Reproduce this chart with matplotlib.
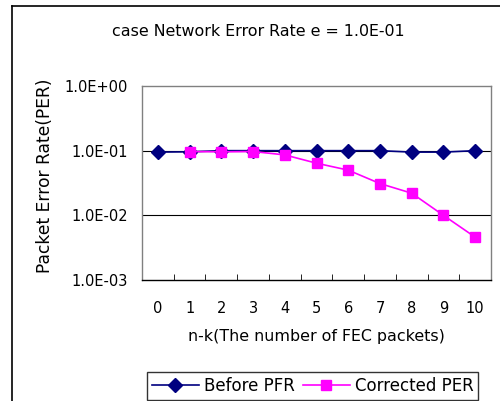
import numpy as np
import matplotlib
matplotlib.use("Agg")
import matplotlib.pyplot as plt
import matplotlib.ticker as ticker
from matplotlib.lines import Line2D

plt.rcParams['font.family'] = ['DejaVu Sans']

# data
fec = [0, 1, 2, 3, 4, 5, 6, 7, 8, 9, 10]
before_per = [0.095, 0.096, 0.100, 0.100, 0.100, 0.100, 0.100, 0.100, 0.095, 0.095, 0.100]
corr_x = [1, 2, 3, 4, 5, 6, 7, 8, 9, 10]
corrected_per = [0.097, 0.096, 0.097, 0.086, 0.064, 0.050, 0.031, 0.022, 0.010, 0.0046]
ytick_vals = [1e-3, 1e-2, 1e-1, 1e0]
ytick_labels = ["1.0E-03", "1.0E-02", "1.0E-01", "1.0E+00"]

W, H = 500, 401
FS = 10.5
fig = plt.figure(figsize=(W / 100, H / 100), dpi=100)
ax = fig.add_axes([142 / W, 1 - 280 / H, (491 - 142) / W, (280 - 86) / H])

# outer chart frame (right and bottom edges fall outside the picture)
fig.add_artist(Line2D([12 / W, 12 / W], [0, 1 - 6 / H], color="black", lw=1.2, transform=fig.transFigure))
fig.add_artist(Line2D([12 / W, 1], [1 - 6 / H, 1 - 6 / H], color="black", lw=1.2, transform=fig.transFigure))

ax.set_yscale("log")
ax.set_ylim(1e-3, 1)
ax.set_xlim(-0.5, 10.5)

for v in [1e-2, 1e-1]:
    ax.axhline(v, color="black", lw=0.8, zorder=1)

ax.plot(fec, before_per, color="#000080", marker="D", markersize=7, lw=1.2,
        label="Before PFR", zorder=3)
ax.plot(corr_x, corrected_per, color="#ff00ff", marker="s", markersize=7.5, lw=1.2,
        label="Corrected PER", zorder=4)

ax.yaxis.set_major_locator(ticker.FixedLocator(ytick_vals))
ax.yaxis.set_major_formatter(ticker.FixedFormatter(ytick_labels))
ax.yaxis.set_minor_locator(ticker.NullLocator())
ax.tick_params(axis="y", length=0, pad=10, labelsize=FS)

ax.set_xticks(fec)
ax.set_xticks(np.arange(0.5, 10, 1), minor=True)
ax.tick_params(axis="x", which="major", length=0, pad=15, labelsize=FS)
ax.tick_params(axis="x", which="minor", direction="in", length=4, color="black")

for s in ax.spines.values():
    s.set_color("#808080")
    s.set_linewidth(1)
ax.spines["bottom"].set_color("black")

fig.text(316 / W, 1 - 337 / H, "n-k(The number of FEC packets)", ha="center", va="center", fontsize=11.4)
fig.text(45 / W, 1 - 176 / H, "Packet Error Rate(PER)", ha="center", va="center",
         rotation=90, fontsize=12.3)
fig.text(258 / W, 1 - 31 / H, "case Network Error Rate e = 1.0E-01", ha="center", va="center", fontsize=11.4)

leg = fig.legend(loc="lower left", bbox_to_anchor=(147 / W, 1 - 400 / H), ncol=2,
                 frameon=True, fancybox=False, fontsize=12, handlelength=2.8,
                 columnspacing=0.5, handletextpad=0.3, borderpad=0.3,
                 borderaxespad=0)
leg.get_frame().set_edgecolor("black")
leg.get_frame().set_linewidth(1)

fig.savefig("out.png", dpi=100)
